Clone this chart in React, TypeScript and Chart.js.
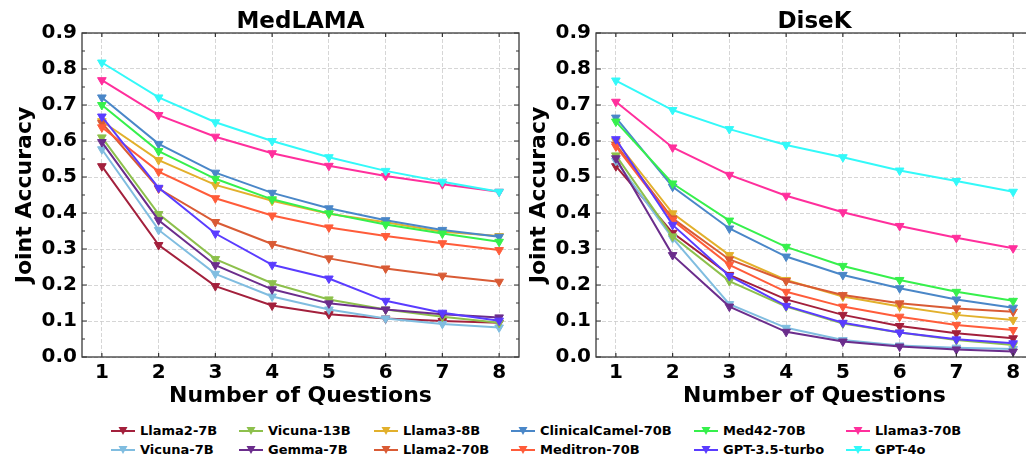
import React, { useEffect, useRef } from "react";
import { Chart, registerables } from "chart.js";

Chart.register(...registerables);

// ---------- data ----------
const questionCounts = [1, 2, 3, 4, 5, 6, 7, 8];
const yTickValues = [0, 0.1, 0.2, 0.3, 0.4, 0.5, 0.6, 0.7, 0.8, 0.9];

const modelNames = [
  "Llama2-7B",
  "Vicuna-7B",
  "Vicuna-13B",
  "Gemma-7B",
  "Llama3-8B",
  "Llama2-70B",
  "ClinicalCamel-70B",
  "Meditron-70B",
  "Med42-70B",
  "GPT-3.5-turbo",
  "Llama3-70B",
  "GPT-4o",
];

const modelColors = [
  "#a3203c",
  "#80bde0",
  "#8dc04c",
  "#6b2d8c",
  "#e2b02c",
  "#d95b35",
  "#4a87c8",
  "#ff5c3a",
  "#36f04c",
  "#5a3cff",
  "#ff2f9c",
  "#33f9f9",
];

// MedLAMA
const medLlama2_7B = [0.53, 0.311, 0.197, 0.143, 0.119, 0.107, 0.1, 0.095];
const medVicuna_7B = [0.577, 0.353, 0.231, 0.168, 0.132, 0.107, 0.092, 0.082];
const medVicuna_13B = [0.61, 0.397, 0.272, 0.205, 0.16, 0.132, 0.112, 0.095];
const medGemma_7B = [0.597, 0.38, 0.255, 0.188, 0.149, 0.132, 0.119, 0.11];
const medLlama3_8B = [0.655, 0.547, 0.478, 0.434, 0.398, 0.374, 0.348, 0.336];
const medLlama2_70B = [0.65, 0.468, 0.375, 0.314, 0.274, 0.246, 0.226, 0.209];
const medClinicalCamel_70B = [0.721, 0.592, 0.512, 0.456, 0.413, 0.38, 0.353, 0.334];
const medMeditron_70B = [0.638, 0.515, 0.441, 0.393, 0.36, 0.336, 0.316, 0.297];
const medMed42_70B = [0.7, 0.572, 0.495, 0.438, 0.399, 0.368, 0.343, 0.32];
const medGPT35 = [0.668, 0.47, 0.343, 0.256, 0.218, 0.156, 0.123, 0.101];
const medLlama3_70B = [0.769, 0.672, 0.612, 0.566, 0.531, 0.503, 0.48, 0.459];
const medGPT4o = [0.818, 0.721, 0.652, 0.6, 0.555, 0.517, 0.487, 0.459];

// DiseK
const disLlama2_7B = [0.53, 0.345, 0.228, 0.16, 0.117, 0.086, 0.066, 0.052];
const disVicuna_7B = [0.545, 0.33, 0.147, 0.081, 0.047, 0.032, 0.026, 0.022];
const disVicuna_13B = [0.56, 0.335, 0.211, 0.14, 0.093, 0.068, 0.047, 0.033];
const disGemma_7B = [0.552, 0.283, 0.14, 0.07, 0.043, 0.029, 0.021, 0.015];
const disLlama3_8B = [0.6, 0.399, 0.283, 0.214, 0.168, 0.14, 0.117, 0.103];
const disLlama2_70B = [0.59, 0.385, 0.271, 0.211, 0.172, 0.149, 0.135, 0.126];
const disClinicalCamel_70B = [0.665, 0.473, 0.357, 0.279, 0.228, 0.191, 0.16, 0.137];
const disMeditron_70B = [0.585, 0.38, 0.256, 0.181, 0.14, 0.112, 0.089, 0.075];
const disMed42_70B = [0.654, 0.482, 0.379, 0.306, 0.253, 0.214, 0.181, 0.156];
const disGPT35 = [0.605, 0.367, 0.225, 0.142, 0.095, 0.068, 0.049, 0.038];
const disLlama3_70B = [0.709, 0.582, 0.506, 0.448, 0.402, 0.364, 0.331, 0.302];
const disGPT4o = [0.768, 0.686, 0.633, 0.589, 0.555, 0.518, 0.489, 0.459];

const medlamaSeries = [
  medLlama2_7B, medVicuna_7B, medVicuna_13B, medGemma_7B, medLlama3_8B, medLlama2_70B,
  medClinicalCamel_70B, medMeditron_70B, medMed42_70B, medGPT35, medLlama3_70B, medGPT4o,
];
const diseKSeries = [
  disLlama2_7B, disVicuna_7B, disVicuna_13B, disGemma_7B, disLlama3_8B, disLlama2_70B,
  disClinicalCamel_70B, disMeditron_70B, disMed42_70B, disGPT35, disLlama3_70B, disGPT4o,
];

// ---------- styling ----------
const FONT = "'DejaVu Sans', sans-serif";
const CANVAS_W = 531;
const CANVAS_H = 410;

function framePlugin(title: string) {
  return {
    id: "frameTitle",
    afterDraw(chart: any) {
      const { ctx, chartArea: a, scales } = chart;
      const xs = scales.x;
      const ys = scales.y;
      ctx.save();
      ctx.strokeStyle = "#333";
      ctx.lineWidth = 1.2;
      ctx.beginPath();
      // y major + minor ticks (inward, both sides)
      for (let i = 0; i < yTickValues.length; i++) {
        const v = yTickValues[i];
        const py = ys.getPixelForValue(v);
        ctx.moveTo(a.left, py);
        ctx.lineTo(a.left + 5, py);
        ctx.moveTo(a.right, py);
        ctx.lineTo(a.right - 5, py);
        if (i < yTickValues.length - 1) {
          const pm = ys.getPixelForValue((v + yTickValues[i + 1]) / 2);
          ctx.moveTo(a.left, pm);
          ctx.lineTo(a.left + 3, pm);
          ctx.moveTo(a.right, pm);
          ctx.lineTo(a.right - 3, pm);
        }
      }
      // x ticks top and bottom
      for (const q of questionCounts) {
        const px = xs.getPixelForValue(q);
        ctx.moveTo(px, a.top);
        ctx.lineTo(px, a.top + 4);
        ctx.moveTo(px, a.bottom);
        ctx.lineTo(px, a.bottom - 4);
      }
      ctx.stroke();
      // frame
      ctx.lineWidth = 1.3;
      ctx.strokeStyle = "#3a3a3a";
      ctx.strokeRect(a.left, a.top, a.right - a.left, a.bottom - a.top);
      // title
      ctx.fillStyle = "#000";
      ctx.font = `bold 23px ${FONT}`;
      ctx.textAlign = "center";
      ctx.textBaseline = "alphabetic";
      ctx.fillText(title, (a.left + a.right) / 2, 28);
      ctx.restore();
    },
  };
}

function buildConfig(title: string, series: number[][]): any {
  const n = series.length;
  const datasets = series.map((vals, i) => ({
    label: modelNames[i],
    data: questionCounts.map((q, j) => ({ x: q, y: vals[j] })),
    borderColor: modelColors[i],
    backgroundColor: modelColors[i],
    pointBackgroundColor: modelColors[i],
    pointBorderColor: modelColors[i],
    borderWidth: 2,
    pointStyle: "triangle",
    pointRotation: 180,
    pointRadius: 5,
    pointBorderWidth: 1,
    tension: 0,
    fill: false,
    order: n - i,
  }));
  return {
    type: "line",
    data: { datasets },
    options: {
      animation: false,
      responsive: false,
      maintainAspectRatio: false,
      devicePixelRatio: 1,
      events: [],
      layout: { padding: { top: 33, left: 0, right: 12, bottom: 0 } },
      plugins: {
        legend: { display: false },
        tooltip: { enabled: false },
        title: { display: false },
      },
      scales: {
        x: {
          type: "linear",
          bounds: "data",
          min: 0.65,
          max: 8.35,
          afterBuildTicks: (s: any) => {
            s.ticks = questionCounts.map((v) => ({ value: v }));
          },
          afterFit: (s: any) => {
            s.height = CANVAS_H - 357;
            s.paddingLeft = 0;
            s.paddingRight = 0;
          },
          grid: { color: "#cccccc", lineWidth: 0.8, drawTicks: false },
          border: { display: false, dash: [4, 2] },
          ticks: {
            autoSkip: false,
            maxRotation: 0,
            padding: 4,
            color: "#000",
            font: { family: FONT, size: 20, weight: "bold" },
            callback: (v: any) => String(v),
          },
          title: {
            display: true,
            text: "Number of Questions",
            color: "#000",
            font: { family: FONT, size: 22, weight: "bold" },
            padding: { top: 0, bottom: 1 },
          },
        },
        y: {
          type: "linear",
          bounds: "data",
          min: 0,
          max: 0.9,
          afterBuildTicks: (s: any) => {
            s.ticks = yTickValues.map((v) => ({ value: v }));
          },
          afterFit: (s: any) => {
            s.width = 82;
            s.paddingTop = 0;
            s.paddingBottom = 0;
          },
          grid: { color: "#cccccc", lineWidth: 0.8, drawTicks: false },
          border: { display: false, dash: [4, 2] },
          ticks: {
            autoSkip: false,
            padding: 5,
            color: "#000",
            font: { family: FONT, size: 20, weight: "bold" },
            callback: (v: any) => Number(v).toFixed(1),
          },
          title: {
            display: true,
            text: "Joint Accuracy",
            color: "#000",
            font: { family: FONT, size: 22, weight: "bold" },
            padding: { top: 12, bottom: 0 },
          },
        },
      },
    },
    plugins: [framePlugin(title)],
  };
}

function ChartPanel(props: { title: string; series: number[][]; left: number }) {
  const ref = useRef<HTMLCanvasElement | null>(null);
  useEffect(() => {
    if (!ref.current) return;
    const chart = new Chart(ref.current, buildConfig(props.title, props.series));
    return () => chart.destroy();
  }, []);
  return (
    <canvas
      ref={ref}
      width={CANVAS_W}
      height={CANVAS_H}
      style={{ position: "absolute", left: props.left, top: 0, width: CANVAS_W, height: CANVAS_H }}
    />
  );
}

const legendTextX = [140, 268, 403, 540, 723, 875];
const legendRowY = [431, 450];

function Legend() {
  return (
    <>
      {modelNames.map((name, i) => {
        const col = Math.floor(i / 2);
        const row = i % 2;
        const tx = legendTextX[col];
        const cy = legendRowY[row];
        return (
          <div
            key={name}
            style={{
              position: "absolute",
              left: tx - 29,
              top: cy - 8,
              height: 16,
              display: "flex",
              alignItems: "center",
              whiteSpace: "nowrap",
            }}
          >
            <svg width={24} height={12} style={{ marginRight: 5, display: "block" }}>
              <line x1={0} y1={6} x2={24} y2={6} stroke={modelColors[i]} strokeWidth={2} />
              <polygon points="7.5,2 16.5,2 12,10" fill={modelColors[i]} />
            </svg>
            <span
              style={{
                fontFamily: FONT,
                fontWeight: "bold",
                fontSize: 13,
                lineHeight: "16px",
                color: "#000",
              }}
            >
              {name}
            </span>
          </div>
        );
      })}
    </>
  );
}

export default function App() {
  return (
    <div
      style={{
        position: "fixed",
        left: 0,
        top: 0,
        width: 1026,
        height: 461,
        overflow: "hidden",
        background: "#fff",
      }}
    >
      <ChartPanel title="MedLAMA" series={medlamaSeries} left={0} />
      <ChartPanel title="DiseK" series={diseKSeries} left={514} />
      <Legend />
    </div>
  );
}
